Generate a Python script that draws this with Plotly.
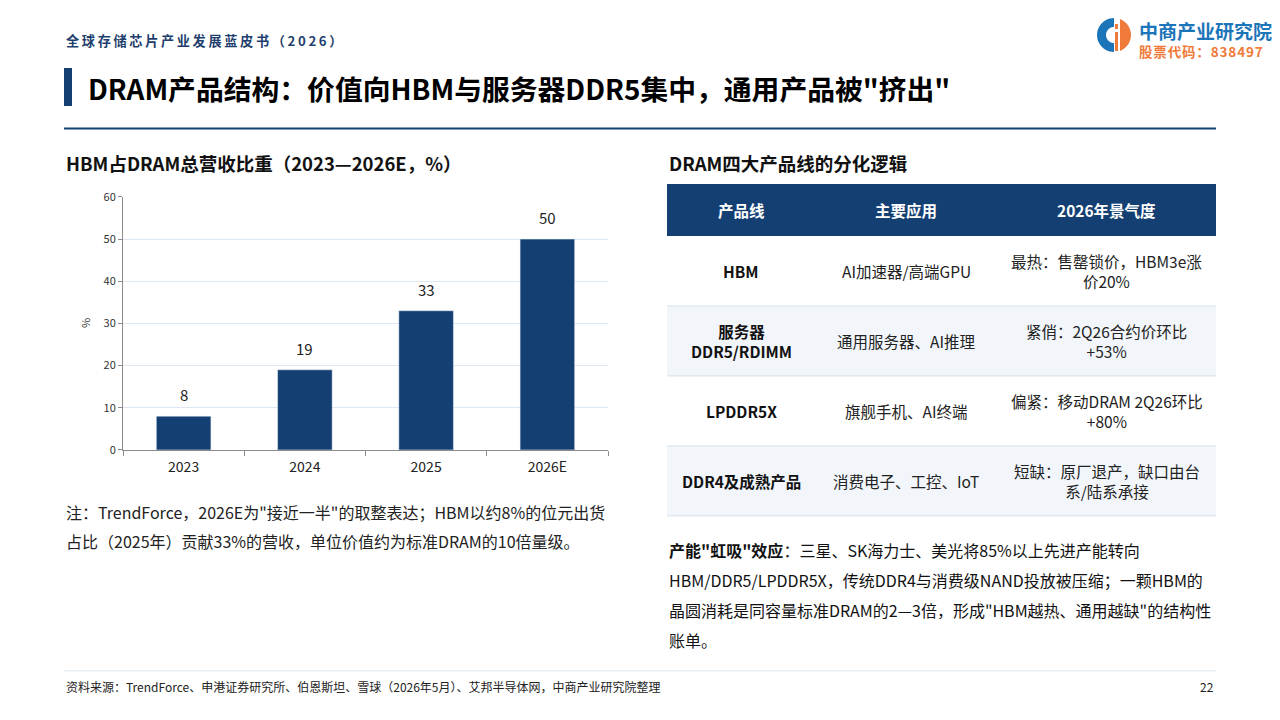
import math
import plotly.graph_objects as go

W, H = 1280, 720
FONT = "Noto Sans CJK SC"
NAVY = "#143f73"

# ---- data ----
years = ["2023", "2024", "2025", "2026E"]
hbm_share = [8, 19, 33, 50]
y_ticks = [0, 10, 20, 30, 40, 50, 60]

tbl_header = ["产品线", "主要应用", "2026年景气度"]
tbl_line = ["HBM", "服务器<br>DDR5/RDIMM", "LPDDR5X", "DDR4及成熟产品"]
tbl_app = ["AI加速器/高端GPU", "通用服务器、AI推理", "旗舰手机、AI终端", "消费电子、工控、IoT"]
tbl_mood = ["最热：售罄锁价，HBM3e涨<br>价20%", "紧俏：2Q26合约价环比<br>+53%",
            "偏紧：移动DRAM 2Q26环比<br>+80%", "短缺：原厂退产，缺口由台<br>系/陆系承接"]

note_lines = ["注：TrendForce，2026E为\"接近一半\"的取整表达；HBM以约8%的位元出货",
              "占比（2025年）贡献33%的营收，单位价值约为标准DRAM的10倍量级。"]
para_lines = ["<b>产能\"虹吸\"效应</b>：三星、SK海力士、美光将85%以上先进产能转向",
              "HBM/DDR5/LPDDR5X，传统DDR4与消费级NAND投放被压缩；一颗HBM的",
              "晶圆消耗是同容量标准DRAM的2—3倍，形成\"HBM越热、通用越缺\"的结构性",
              "账单。"]

# the captured picture comes out slightly squeezed vertically, so pixel rows
# measured on the reference are mapped back through this before placing things
OFF, SC = 9.0, 0.978


def X(px):
    return px / W


def Y(py):
    return 1 - ((py - OFF) / SC) / H


shapes = []
ann = []


def text(px, py, s, size, color="#111", anchor="left", **kw):
    ann.append(dict(x=X(px), y=Y(py), xref="paper", yref="paper", text=s, showarrow=False,
                    xanchor=anchor, yanchor="middle", align="center" if anchor == "center" else anchor,
                    font=dict(family=FONT, size=size, color=color), **kw))


def rect(x0, y0, x1, y1, fill):
    shapes.append(dict(type="rect", xref="paper", yref="paper", x0=X(x0), x1=X(x1), y0=Y(y1), y1=Y(y0),
                       fillcolor=fill, line=dict(width=0), layer="below"))


def hline(x0, x1, py, color, width):
    shapes.append(dict(type="line", xref="paper", yref="paper", x0=X(x0), x1=X(x1), y0=Y(py), y1=Y(py),
                       line=dict(color=color, width=width)))


def poly(pts, fill):
    d = "M " + " L ".join(f"{X(a)},{Y(b)}" for a, b in pts) + " Z"
    shapes.append(dict(type="path", xref="paper", yref="paper", path=d, fillcolor=fill, line=dict(width=0)))


fig = go.Figure()

# bar chart
fig.add_trace(go.Bar(x=years, y=hbm_share, marker_color=NAVY, width=0.45, hoverinfo="skip"))
for i, v in enumerate(hbm_share):
    ann.append(dict(x=i, y=v, xref="x", yref="y", text=str(v), showarrow=False,
                    yanchor="bottom", yshift=9, font=dict(family=FONT, size=15, color="#222")))

# ---- header ----
sp = "\u2009"
text(64, 41, f"<b>{sp.join('全球存储芯片产业发展蓝皮书（2026）')}</b>", 13.2, "#1f3f6e")
rect(64, 68, 72, 106, NAVY)
text(86, 88, "<b>DRAM产品结构：价值向HBM与服务器DDR5集中，通用产品被\"挤出\"</b>", 27.8, "#000")
hline(64, 1216, 128.5, NAVY, 2)

# logo: blue "C" ring plus orange "i" half
cx, cy, r, ri = 1114, 35, 17, 8
angs = [math.radians(90 + 180 * k / 24) for k in range(25)]
outer = [(cx + r * math.cos(a), cy - r * math.sin(a)) for a in angs]
inner = [(cx + ri * math.cos(a), cy - ri * math.sin(a)) for a in reversed(angs)]
poly(outer + inner, "#1c75b8")
half = [math.radians(-70 + 140 * k / 20) for k in range(21)]
poly([(cx + 6, cy + r * math.sin(math.radians(70)))] +
     [(cx + r * math.cos(a), cy - r * math.sin(a)) for a in half] +
     [(cx + 6, cy - r * math.sin(math.radians(70)))], "#ef7a3a")
rect(cx + 1, cy - 3, cx + 4, cy + 16, "#ef7a3a")
rect(cx + 1, cy - 11, cx + 4, cy - 6, "#ef7a3a")
logo_txt = ("<span style='font-size:19px;color:#1c75b8'><b>中商产业研究院</b></span><br>"
            f"<b>{chr(0x200A).join('股票代码：838497')}</b>")
text(1137, 39, logo_txt, 13.5, "#ef7a3a")

# ---- left panel ----
text(64, 163, "<b>HBM占DRAM总营收比重（2023—2026E，%）</b>", 18.5, "#111")
text(85, 323, "%", 11, "#333", anchor="center", textangle=-90)
for i, s in enumerate(note_lines):
    text(64, 512 + 29 * i, s, 16, "#222")

# ---- right panel: table ----
text(667, 163, "<b>DRAM四大产品线的分化逻辑</b>", 18.5, "#111")
col_x = [667, 815, 997, 1216]
rect(col_x[0], 184, col_x[-1], 236, NAVY)
for j, h in enumerate(tbl_header):
    text((col_x[j] + col_x[j + 1]) / 2, 210, f"<b>{h}</b>", 15.5, "#ffffff", anchor="center")
row_h = 70
for i in range(len(tbl_line)):
    top = 236 + row_h * i
    rect(col_x[0], top, col_x[-1], top + row_h, "#ffffff" if i % 2 == 0 else "#f2f6fb")
    hline(col_x[0], col_x[-1], top + row_h, "#d7e1eb", 1)
    mid = top + row_h / 2
    text((col_x[0] + col_x[1]) / 2, mid, f"<b>{tbl_line[i]}</b>", 15.5, "#111", anchor="center")
    text((col_x[1] + col_x[2]) / 2, mid, tbl_app[i], 15.5, "#222", anchor="center")
    text((col_x[2] + col_x[3]) / 2, mid, tbl_mood[i], 15.5, "#222", anchor="center")

for i, s in enumerate(para_lines):
    text(667, 550 + 30 * i, s, 16, "#111")

# ---- footer ----
hline(64, 1216, 671, "#dfe7ef", 1)
text(64, 687, "资料来源：TrendForce、申港证券研究所、伯恩斯坦、雪球（2026年5月）、艾邦半导体网，中商产业研究院整理",
     12, "#222")
text(1216, 687, "22", 12, "#222", anchor="right")

fig.update_layout(
    width=W, height=H, margin=dict(l=0, r=0, t=0, b=0),
    paper_bgcolor="white", plot_bgcolor="white", showlegend=False,
    font=dict(family=FONT),
    shapes=shapes, annotations=ann,
    xaxis=dict(domain=[X(123), X(608)], type="category", range=[-0.5, 3.5],
               showline=True, linecolor="#8c8c8c", linewidth=1,
               ticks="outside", tickson="boundaries", ticklen=5, tickcolor="#8c8c8c",
               ticklabelstandoff=4,
               tickfont=dict(family=FONT, size=14, color="#222"), showgrid=False),
    yaxis=dict(domain=[Y(450), Y(197)], range=[0, 60], tickvals=y_ticks,
               showline=True, linecolor="#8c8c8c", linewidth=1,
               ticks="outside", ticklen=4, tickcolor="#8c8c8c",
               tickfont=dict(family=FONT, size=11, color="#333"),
               showgrid=True, gridcolor="#dde7f1", gridwidth=1, zeroline=False),
)

# the page has default margins; pin html/body to exactly the figure size
css = "margin:0;padding:0;overflow:hidden;width:1280px;height:720px"
fig.write_html("out.html", config={"displayModeBar": False},
               post_script=f"document.documentElement.style.cssText='{css}';document.body.style.cssText='{css}';")
